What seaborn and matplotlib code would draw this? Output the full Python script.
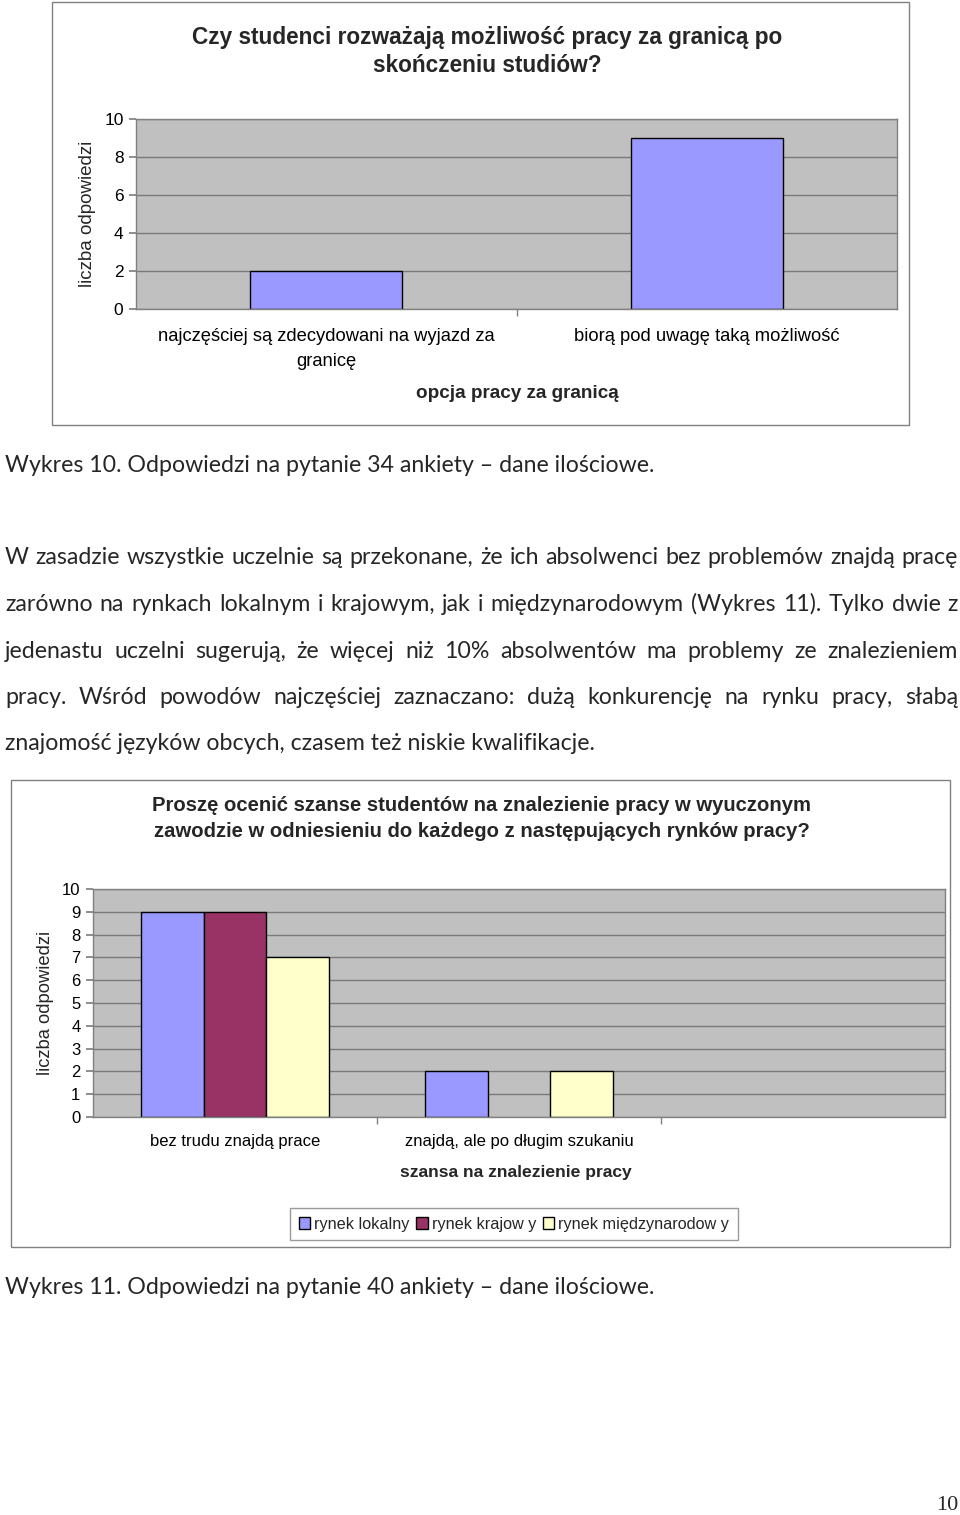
import matplotlib
matplotlib.use("Agg")
import matplotlib.pyplot as plt
from matplotlib.patches import Rectangle, Patch
from matplotlib.ticker import MultipleLocator, FixedLocator
import seaborn as sns
import pandas as pd

# ---------------- data ----------------
title1 = "Czy studenci rozważają możliwość pracy za granicą po\nskończeniu studiów?"
cats1 = ["najczęściej są zdecydowani na wyjazd za\ngranicę", "biorą pod uwagę taką możliwość"]
vals1 = [2, 9]
xlabel1 = "opcja pracy za granicą"
ylabel = "liczba odpowiedzi"

title2 = ("Proszę ocenić szanse studentów na znalezienie pracy w wyuczonym\n"
          "zawodzie w odniesieniu do każdego z następujących rynków pracy?")
cats2 = ["bez trudu znajdą prace", "znajdą, ale po długim szukaniu", " "]
series2 = ["rynek lokalny", "rynek krajow y", "rynek międzynarodow y"]
lokalny = [9, 2, 0]
krajowy = [9, 0, 0]
miedzynarodowy = [7, 2, 0]
xlabel2 = "szansa na znalezienie pracy"
colors2 = ["#9999FF", "#993366", "#FFFFCC"]

caption1 = "Wykres 10. Odpowiedzi na pytanie 34 ankiety – dane ilościowe."
caption2 = "Wykres 11. Odpowiedzi na pytanie 40 ankiety – dane ilościowe."
paragraph = [
    "W zasadzie wszystkie uczelnie są przekonane, że ich absolwenci bez problemów znajdą pracę",
    "zarówno na rynkach lokalnym i krajowym, jak i międzynarodowym (Wykres 11). Tylko dwie z",
    "jedenastu uczelni sugerują, że więcej niż 10% absolwentów ma problemy ze znalezieniem",
    "pracy. Wśród powodów najczęściej zaznaczano: dużą konkurencję na rynku pracy, słabą",
    "znajomość języków obcych, czasem też niskie kwalifikacje.",
]
page_no = "10"

# ---------------- setup ----------------
sns.set_theme(style="white")
plt.rcParams["font.family"] = ["Liberation Sans", "DejaVu Sans"]

W, H = 960, 1515
fig = plt.figure(figsize=(W / 100, H / 100), dpi=100)
fig.patch.set_facecolor("white")

def fx(px):
    return px / W

def fy(py):
    return 1 - py / H

def axes_px(l, t, r, b):
    return fig.add_axes([fx(l), fy(b), (r - l) / W, (b - t) / H])

def frame_px(l, t, r, b):
    fig.patches.append(Rectangle((fx(l), fy(b)), (r - l) / W, (b - t) / H,
                                 transform=fig.transFigure, fill=False,
                                 edgecolor="#808080", linewidth=1.0))

def style_axes(ax, ystep, xpad):
    ax.set_facecolor("#C0C0C0")
    ax.set_ylim(0, 10)
    ax.yaxis.set_major_locator(MultipleLocator(ystep))
    ax.grid(axis="y", color="#7a7a7a", linewidth=1.0)
    ax.grid(axis="x", visible=False)
    ax.set_axisbelow(True)
    for s in ax.spines.values():
        s.set_color("#808080")
        s.set_linewidth(1.0)
    ax.tick_params(axis="y", which="major", length=5, color="#808080",
                   left=True, pad=4, labelcolor="black")
    ax.tick_params(axis="x", which="major", length=0, pad=xpad, labelcolor="black")
    n = len(ax.get_xticks())
    ax.xaxis.set_minor_locator(FixedLocator([i + 0.5 for i in range(n - 1)]))
    ax.tick_params(axis="x", which="minor", length=5, color="#808080", bottom=True)

# ---------------- chart 1 ----------------
frame_px(52, 2, 909, 425)
ax1 = axes_px(136, 119, 897, 309)
sns.barplot(x=cats1, y=vals1, color="#9999FF", saturation=1, width=0.4,
            edgecolor="black", linewidth=1.0, ax=ax1)
style_axes(ax1, 2, 14)
for lab in ax1.get_xticklabels():
    lab.set_fontsize(13.2)
    lab.set_linespacing(1.55)
for lab in ax1.get_yticklabels():
    lab.set_fontsize(12.5)
ax1.set_ylabel(ylabel, fontsize=13.5, labelpad=5.5)
ax1.set_xlabel("")
fig.text(fx(487), fy(51.5), title1, ha="center", va="center", fontsize=16.3,
         fontweight="bold", linespacing=1.33)
fig.text(fx(517), fy(393), xlabel1, ha="center", va="center", fontsize=13.6,
         fontweight="bold")

# ---------------- chart 2 ----------------
frame_px(11, 780, 950, 1247)
ax2 = axes_px(93, 889, 945, 1117)
df2 = pd.DataFrame({
    "kategoria": cats2 * 3,
    "rynek": [series2[0]] * 3 + [series2[1]] * 3 + [series2[2]] * 3,
    "liczba": lokalny + krajowy + miedzynarodowy,
})
sns.barplot(data=df2, x="kategoria", y="liczba", hue="rynek", order=cats2,
            hue_order=series2, palette=colors2, saturation=1, width=0.66,
            edgecolor="black", linewidth=1.0, errorbar=None, ax=ax2)
for p in ax2.patches:
    if p.get_height() == 0:
        p.set_visible(False)
style_axes(ax2, 1, 12.5)
for lab in ax2.get_xticklabels():
    lab.set_fontsize(12)
for lab in ax2.get_yticklabels():
    lab.set_fontsize(12)
ax2.set_ylabel(ylabel, fontsize=13.2, labelpad=6)
ax2.set_xlabel("")
if ax2.get_legend() is not None:
    ax2.get_legend().remove()
handles = [Patch(facecolor=c, edgecolor="black", linewidth=1.0) for c in colors2]
ax2.legend(handles, series2, loc="center", ncol=3,
           bbox_to_anchor=(fx(514), fy(1224)), bbox_transform=fig.transFigure,
           fontsize=11.7, frameon=True, fancybox=False, edgecolor="#808080",
           handlelength=0.7, handleheight=0.7, handletextpad=0.25,
           columnspacing=0.4, borderpad=0.55)
fig.text(fx(482), fy(818.5), title2, ha="center", va="center", fontsize=14.6,
         fontweight="bold", linespacing=1.5)
fig.text(fx(516), fy(1173), xlabel2, ha="center", va="center", fontsize=12.6,
         fontweight="bold")

# ---------------- body text ----------------
body_font = ["Lato", "DejaVu Sans"]
renderer = fig.canvas.get_renderer()

def text_width(s, size):
    t = fig.text(0, 0, s, fontsize=size, family=body_font)
    w = t.get_window_extent(renderer=renderer).width
    t.remove()
    return w

base = text_width(caption1, 10)
body_size = 10 * 649 / base

fig.text(fx(5), fy(472), caption1, fontsize=body_size, family=body_font,
         ha="left", va="baseline")
fig.text(fx(5), fy(1294), caption2, fontsize=body_size, family=body_font,
         ha="left", va="baseline")

line_y = [564, 611, 658, 704, 750]
left_px, right_px = 5, 958
for i, line in enumerate(paragraph):
    y = fy(line_y[i])
    if i == len(paragraph) - 1:
        fig.text(fx(left_px), y, line, fontsize=body_size, family=body_font,
                 ha="left", va="baseline")
        continue
    words = line.split(" ")
    widths = [text_width(w_, body_size) for w_ in words]
    gap = (right_px - left_px - sum(widths)) / (len(words) - 1)
    x = left_px
    for w_, wd in zip(words, widths):
        fig.text(fx(x), y, w_, fontsize=body_size, family=body_font,
                 ha="left", va="baseline")
        x += wd + gap

fig.text(fx(958), fy(1510), page_no, fontsize=16, family=["Liberation Serif", "DejaVu Serif"],
         ha="right", va="baseline")

fig.savefig("out.png", dpi=100)
